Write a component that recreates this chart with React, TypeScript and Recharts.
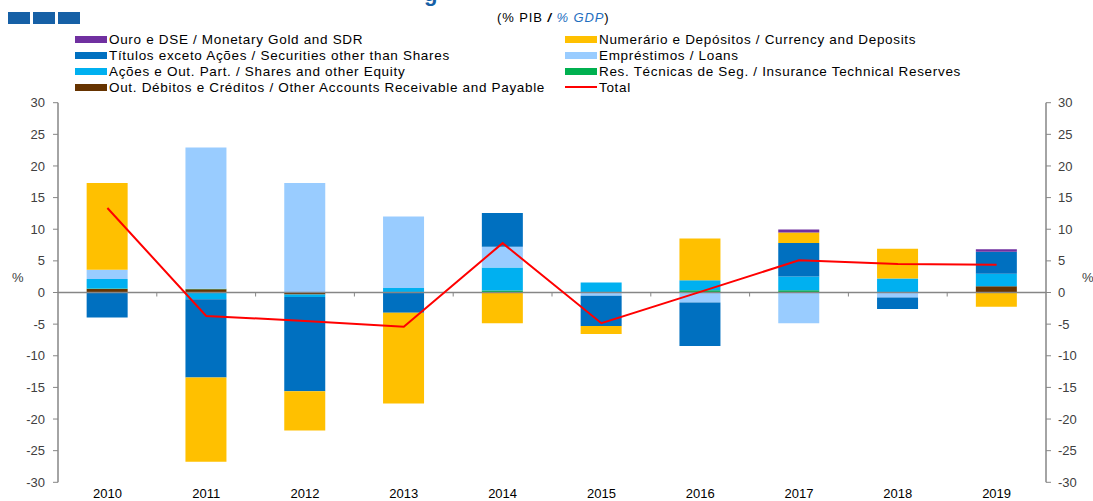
import React from 'react';
import { ComposedChart, Bar, Line, XAxis, YAxis, ReferenceLine } from 'recharts';

const categories = ['2010', '2011', '2012', '2013', '2014', '2015', '2016', '2017', '2018', '2019'];
const gold = [0, 0, 0, 0, 0, 0, 0, 0.47, 0, 0.37];
const currency = [13.7, -13.3, -6.2, -14.35, -4.85, -1.27, 6.6, 1.69, 4.7, -2.27];
const securities = [-3.96, -12.4, -14.9, -3.2, 5.33, -4.8, -6.86, 5.28, -1.8, 3.5];
const loans = [1.48, 22.3, 17.3, 11.3, 3.27, -0.5, -1.58, -4.85, -0.8, 0];
const shares = [1.48, -1.05, -0.4, 0.7, 3.65, 1.6, 1.58, 2.16, 2.2, 1.95];
const insurance = [0.1, 0.1, 0, 0, 0.3, 0, 0.37, 0.37, 0, 0];
const other = [0.55, 0.5, -0.3, 0, 0, 0, 0, 0, 0, 1.0];
const total = [13.35, -3.7, -4.5, -5.4, 7.8, -4.85, 0.1, 5.1, 4.5, 4.4];
const yTicks = [-30, -25, -20, -15, -10, -5, 0, 5, 10, 15, 20, 25, 30];

const seriesNames = {
  gold: 'Ouro e DSE / Monetary Gold and SDR',
  currency: 'Numerário e Depósitos / Currency and Deposits',
  securities: 'Títulos exceto Ações / Securities other than Shares',
  loans: 'Empréstimos / Loans',
  shares: 'Ações e Out. Part. / Shares and other Equity',
  insurance: 'Res. Técnicas de Seg. / Insurance Technical Reserves',
  other: 'Out. Débitos e Créditos / Other Accounts Receivable and Payable',
  total: 'Total',
};

const colors = {
  gold: '#7030A0',
  currency: '#FFC000',
  securities: '#0070C0',
  loans: '#99CCFF',
  shares: '#00B0F0',
  insurance: '#00B050',
  other: '#663300',
  total: '#FF0000',
};

// stacking order (bottom -> top)
const stackOrder = ['other', 'insurance', 'shares', 'loans', 'securities', 'currency', 'gold'];
// legend order (two columns, row-major)
const legendOrder = ['gold', 'currency', 'securities', 'loans', 'shares', 'insurance', 'other', 'total'];

const seriesValues: Record<string, number[]> = { gold, currency, securities, loans, shares, insurance, other, total };

const data = categories.map((c, i) => {
  const row: Record<string, any> = { year: c };
  Object.keys(seriesValues).forEach((k) => {
    row[k] = seriesValues[k][i];
  });
  return row;
});

const FONT = '"Liberation Sans", Arial, sans-serif';
const AXIS = '#868686';

const ZeroLine = (props: any) => {
  const { x1, y1, x2, y2 } = props;
  const n = categories.length;
  const ticks = [];
  for (let i = 1; i < n; i++) {
    const x = x1 + ((x2 - x1) * i) / n;
    ticks.push(<line key={i} x1={x} x2={x} y1={y1} y2={y1 + 4} stroke={AXIS} strokeWidth={1} />);
  }
  return (
    <g>
      <line x1={x1} y1={y1} x2={x2} y2={y2} stroke={AXIS} strokeWidth={1.5} />
      {ticks}
    </g>
  );
};

export default function App() {
  const rowsY = [39, 55, 71, 87];
  const colX = [75, 565];
  return (
    <div style={{ position: 'absolute', left: 0, top: 0, width: 1093, height: 501, background: '#fff', overflow: 'hidden', fontFamily: FONT }}>
      {/* header squares */}
      {[0, 1, 2].map((i) => (
        <div key={i} style={{ position: 'absolute', left: 8 + i * 25, top: 12, width: 22, height: 12, background: '#1660A6' }} />
      ))}
      <div style={{ position: 'absolute', left: 424, top: -19, fontSize: 22, fontWeight: 'bold', color: '#1660A6', fontFamily: FONT }}>g</div>
      <div style={{ position: 'absolute', left: 497, top: 10, fontSize: 13, letterSpacing: 0.9, color: '#000', fontFamily: FONT, whiteSpace: 'nowrap' }}>
        (% PIB <b><i>/</i></b> <i style={{ color: '#1F6FBF' }}>% GDP</i>)
      </div>
      {/* legend */}
      {legendOrder.map((k, idx) => {
        const row = Math.floor(idx / 2);
        const col = idx % 2;
        const isLine = k === 'total';
        return (
          <div key={k} style={{ position: 'absolute', left: colX[col], top: rowsY[row] - 9, height: 18, display: 'flex', alignItems: 'center', whiteSpace: 'nowrap' }}>
            <div style={{ width: 32, height: isLine ? 2 : 7, background: (colors as any)[k], marginRight: 2 }} />
            <span style={{ fontSize: 13.5, letterSpacing: 0.68, color: '#000' }}>{(seriesNames as any)[k]}</span>
          </div>
        );
      })}
      <div style={{ position: 'absolute', left: 12, top: 270, fontSize: 13, color: '#404040' }}>%</div>
      <div style={{ position: 'absolute', left: 1082, top: 270, fontSize: 13, color: '#404040' }}>%</div>
      <ComposedChart
        width={1093}
        height={501}
        data={data}
        stackOffset="sign"
        barCategoryGap="29%"
        margin={{ top: 102.7, right: 0, bottom: 0, left: 0 }}
        style={{ position: 'absolute', left: 0, top: 0 }}
      >
        <XAxis
          dataKey="year"
          height={18.7}
          axisLine={false}
          tickLine={false}
          tickMargin={0}
          tick={{ fontSize: 13, fill: '#000', fontFamily: FONT }}
          interval={0}
        />
        <YAxis
          yAxisId="left"
          domain={[-30, 30]}
          ticks={yTicks}
          width={58}
          axisLine={{ stroke: AXIS, strokeWidth: 1.5 }}
          tickLine={{ stroke: AXIS }}
          tickSize={5}
          tickMargin={8}
          tick={{ fontSize: 13, fill: '#404040', fontFamily: FONT }}
          allowDataOverflow
        />
        <YAxis
          yAxisId="right"
          orientation="right"
          domain={[-30, 30]}
          ticks={yTicks}
          width={47}
          axisLine={{ stroke: AXIS, strokeWidth: 1.5 }}
          tickLine={{ stroke: AXIS }}
          tickSize={5}
          tickMargin={7}
          tick={{ fontSize: 13, fill: '#404040', fontFamily: FONT }}
          allowDataOverflow
        />
        {stackOrder.map((k) => (
          <Bar key={k} yAxisId="left" dataKey={k} stackId="a" fill={(colors as any)[k]} isAnimationActive={false} />
        ))}
        <ReferenceLine yAxisId="left" y={0} shape={ZeroLine} />
        <Line
          yAxisId="left"
          dataKey="total"
          stroke={colors.total}
          strokeWidth={2}
          dot={false}
          activeDot={false}
          type="linear"
          isAnimationActive={false}
        />
      </ComposedChart>
    </div>
  );
}
